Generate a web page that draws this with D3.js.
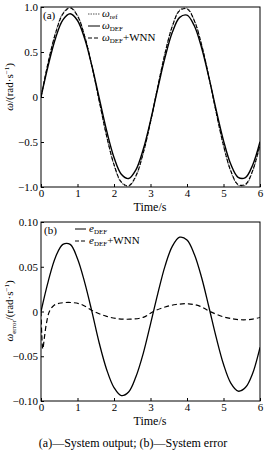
<!DOCTYPE html>
<html>
<head>
<meta charset="utf-8">
<script src="https://cdn.jsdelivr.net/npm/d3@7"></script>
<style>
  body { margin:0; background:#fff; }
  .frame { fill:none; stroke:#000; stroke-width:1; }
  .axis path { display:none; }
  .axis line { stroke:#000; }
  .axis text { font-size:11px; fill:#000; }
</style>
</head>
<body>
<script>
// time samples (s)
var time = [0,0.2,0.4,0.6,0.8,1.0,1.2,1.4,1.6,1.8,2.0,2.2,2.4,2.6,2.8,3.0,
            3.2,3.4,3.6,3.8,4.0,4.2,4.4,4.6,4.8,5.0,5.2,5.4,5.6,5.8,6.0];

// (a) system output
var wRef = [0,0.389,0.717,0.932,1.000,0.909,0.675,0.335,-0.058,-0.443,-0.757,-0.952,-0.996,-0.883,-0.631,-0.279,
            0.117,0.494,0.794,0.968,0.989,0.855,0.585,0.223,-0.175,-0.544,-0.828,-0.981,-0.980,-0.824,-0.537];
var wDef = [0,0.355,0.656,0.857,0.925,0.850,0.643,0.336,-0.022,-0.378,-0.672,-0.858,-0.906,-0.810,-0.584,-0.265,
            0.097,0.443,0.721,0.885,0.909,0.791,0.547,0.218,-0.146,-0.485,-0.748,-0.892,-0.895,-0.755,-0.497];
var wWnn = [0,0.393,0.709,0.922,0.990,0.900,0.669,0.334,-0.055,-0.437,-0.750,-0.944,-0.987,-0.875,-0.624,-0.277,
            0.115,0.489,0.787,0.960,0.980,0.847,0.580,0.222,-0.172,-0.538,-0.820,-0.972,-0.971,-0.816,-0.530];

// (b) system error
var eDef = [0,0.034,0.061,0.075,0.075,0.059,0.032,-0.001,-0.036,-0.065,-0.085,-0.094,-0.090,-0.073,-0.047,-0.014,
            0.020,0.051,0.073,0.083,0.080,0.064,0.038,0.005,-0.029,-0.059,-0.080,-0.089,-0.085,-0.069,-0.040];
var timeWnn = [0,0.02,0.05,0.09,0.15,0.23,0.36,0.55,0.84,1.1,1.45,1.8,2.1,2.44,2.8,3.08,3.4,3.7,4.04,4.35,4.63,5.0,5.3,5.55,5.8,6.0];
var eWnn = [0,-0.025,-0.042,-0.030,-0.013,0,0.007,0.0095,0.010,0.008,0,-0.0055,-0.008,-0.0086,-0.0065,0,0.005,0.0078,0.0086,0.006,0,-0.006,-0.0085,-0.0093,-0.0085,-0.0067];

var xTicks = [0,1,2,3,4,5,6];
var yTicksA = [-1,-0.5,0,0.5,1];
var yLabelsA = ["\u22121.0","\u22120.5","0","0.5","1.0"];
var yTicksB = [-0.1,-0.05,0,0.05,0.1];
var yLabelsB = ["\u22120.10","\u22120.05","0","0.05","0.10"];

var W = 267, H = 453;
var serif = "'Liberation Serif', 'DejaVu Serif', serif";
var svg = d3.select("body").append("svg").attr("width", W).attr("height", H)
   .attr("font-family", serif);

function panel(top, bottom, yDomain, yTicks, yLabels, id) {
  var x = d3.scaleLinear().domain([0,6]).range([41,260]);
  var y = d3.scaleLinear().domain(yDomain).range([bottom, top]);

  svg.append("clipPath").attr("id", id).append("rect")
     .attr("x", 41).attr("y", top).attr("width", 219).attr("height", bottom - top);

  var xa = svg.append("g").attr("class","axis").attr("transform","translate(0,"+bottom+")")
     .call(d3.axisBottom(x).tickValues(xTicks).tickSize(-3).tickPadding(4).tickFormat(d3.format("d")))
     .attr("font-family", serif);
  xa.selectAll("text").attr("dy","0.55em");
  svg.append("g").attr("class","axis").attr("transform","translate(41,0)")
     .call(d3.axisLeft(y).tickValues(yTicks).tickSize(-3).tickPadding(3)
       .tickFormat(function(d,i){ return yLabels[i]; }))
     .attr("font-family", serif);

  svg.append("rect").attr("class","frame")
     .attr("x", 41).attr("y", top).attr("width", 219).attr("height", bottom - top);

  svg.append("text").attr("x", 150).attr("y", bottom + 24)
     .attr("text-anchor","middle").style("font-size","12px").text("Time/s");
  return {x:x, y:y};
}

function drawLine(p, xs, ys, clip, stroke, width, dash) {
  var pts = xs.map(function(t,i){ return [t, ys[i]]; });
  var line = d3.line().x(function(d){ return p.x(d[0]); }).y(function(d){ return p.y(d[1]); })
     .curve(d3.curveCatmullRom);
  svg.append("path").attr("d", line(pts)).attr("clip-path","url(#"+clip+")")
     .attr("fill","none").attr("stroke", stroke).attr("stroke-width", width)
     .attr("stroke-dasharray", dash || null);
}

function legendText(x, y, sym, italic, sub, extra) {
  var t = svg.append("text").attr("x", x).attr("y", y).style("font-size","11px");
  t.append("tspan").style("font-style", italic ? "italic" : "normal").text(sym);
  t.append("tspan").attr("dy", 2).style("font-size","7px").text(sub);
  if (extra) t.append("tspan").attr("dy", -2).text(extra);
}

// ---- panel (a)
var pa = panel(7, 187, [-1,1], yTicksA, yLabelsA, "clipA");
drawLine(pa, time, wRef, "clipA", "#555", 1, "1.5,1");
drawLine(pa, time, wWnn, "clipA", "#000", 1.1, "4,2");
drawLine(pa, time, wDef, "clipA", "#000", 1.4);

svg.append("text").attr("x", 43).attr("y", 19).style("font-size","11px").text("(a)");
var lgA = [[14,"1.5,1","#555","ref",null],[26,null,"#000","DEF",null],[38,"4,2","#000","DEF","+WNN"]];
lgA.forEach(function(r){
  svg.append("line").attr("x1",88).attr("x2",100).attr("y1",r[0]).attr("y2",r[0])
     .attr("stroke",r[2]).attr("stroke-width",1).attr("stroke-dasharray",r[1]);
  legendText(102, r[0]+3, "\u03c9", true, r[3], r[4]);
});

var ya = svg.append("text").attr("transform","translate(13,87) rotate(-90)")
   .attr("text-anchor","middle").style("font-size","11px");
ya.append("tspan").style("font-style","italic").text("\u03c9");
ya.append("tspan").text("/(rad\u00b7s");
ya.append("tspan").attr("dy",-4).style("font-size","7px").text("\u22121");
ya.append("tspan").attr("dy",4).text(")");

// ---- panel (b)
var pb = panel(222, 401, [-0.1,0.1], yTicksB, yLabelsB, "clipB");
drawLine(pb, timeWnn, eWnn, "clipB", "#000", 1.2, "5,3");
drawLine(pb, time, eDef, "clipB", "#000", 1.3);

svg.append("text").attr("x", 44).attr("y", 234).style("font-size","11px").text("(b)");
var lgB = [[229,null,"DEF",null],[241,"4,2","DEF","+WNN"]];
lgB.forEach(function(r){
  svg.append("line").attr("x1",75).attr("x2",86).attr("y1",r[0]).attr("y2",r[0])
     .attr("stroke","#000").attr("stroke-width",1).attr("stroke-dasharray",r[1]);
  legendText(89, r[0]+3, "e", true, r[2], r[3]);
});

var yb = svg.append("text").attr("transform","translate(13,311) rotate(-90)")
   .attr("text-anchor","middle").style("font-size","11px");
yb.append("tspan").style("font-style","italic").text("\u03c9");
yb.append("tspan").attr("dy",3).style("font-size","7px").text("error");
yb.append("tspan").attr("dy",-3).text("/(rad\u00b7s");
yb.append("tspan").attr("dy",-4).style("font-size","7px").text("\u22121");
yb.append("tspan").attr("dy",4).text(")");

// caption
svg.append("text").attr("x", 133).attr("y", 447).attr("text-anchor","middle")
   .style("font-size","12px").text("(a)\u2014System output; (b)\u2014System error");
</script>
</body>
</html>
